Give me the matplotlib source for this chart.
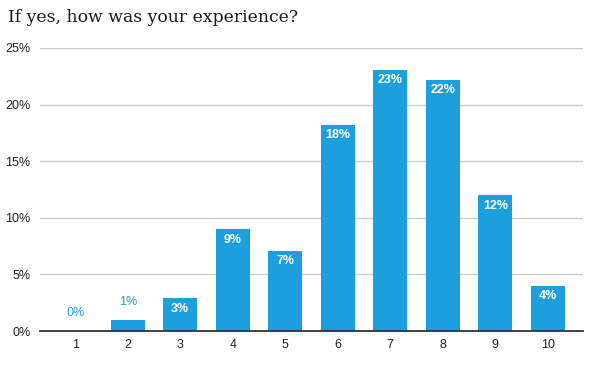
import numpy as np
import matplotlib.pyplot as plt

ratings = ['1', '2', '3', '4', '5', '6', '7', '8', '9', '10']
share = [0.0, 1.0, 2.9, 9.0, 7.1, 18.2, 23.1, 22.2, 12.0, 4.0]
yticks = [0, 5, 10, 15, 20, 25]

blue = '#1c9fdc'

fig = plt.figure(figsize=(5.97, 3.65), dpi=100)
ax = fig.add_axes([40/597, 1-331/365, 543/597, 283/365])

x = np.arange(1, len(ratings) + 1)
ax.bar(x, share, width=0.65, color=blue, zorder=3)

for xi, v in zip(x, share):
    lab = '%d%%' % round(v)
    if v < 2:
        ax.annotate(lab, (xi, v), xytext=(0, 13), textcoords='offset points',
                    ha='center', va='center', color=blue, fontsize=9,
                    family='Liberation Sans')
    else:
        ax.annotate(lab, (xi, v), xytext=(0, -7.5), textcoords='offset points',
                    ha='center', va='center', color='white', fontsize=9,
                    family='Liberation Sans', fontweight='bold')

ax.set_xlim(0.33, 10.67)
ax.set_ylim(0, 25)
ax.set_xticks(x)
ax.set_xticklabels(ratings, family='Liberation Sans', fontsize=9, color='#222222')
ax.set_yticks(yticks)
ax.set_yticklabels(['%d%%' % t for t in yticks], family='Liberation Sans',
                   fontsize=9, color='#222222')
ax.tick_params(length=0, pad=6)
ax.tick_params(axis='y', pad=7)
ax.grid(axis='y', color='#cccccc', linewidth=1, zorder=0)
for s in ['left', 'right', 'top']:
    ax.spines[s].set_visible(False)
ax.spines['bottom'].set_color('#333333')
ax.spines['bottom'].set_linewidth(1.3)
ax.spines['bottom'].set_zorder(4)

fig.text(8/597, 1-18/365, 'If yes, how was your experience?', family='DejaVu Serif',
         fontsize=12.4, va='center', ha='left', color='#1a1a1a')

fig.savefig('out.png', dpi=100)
